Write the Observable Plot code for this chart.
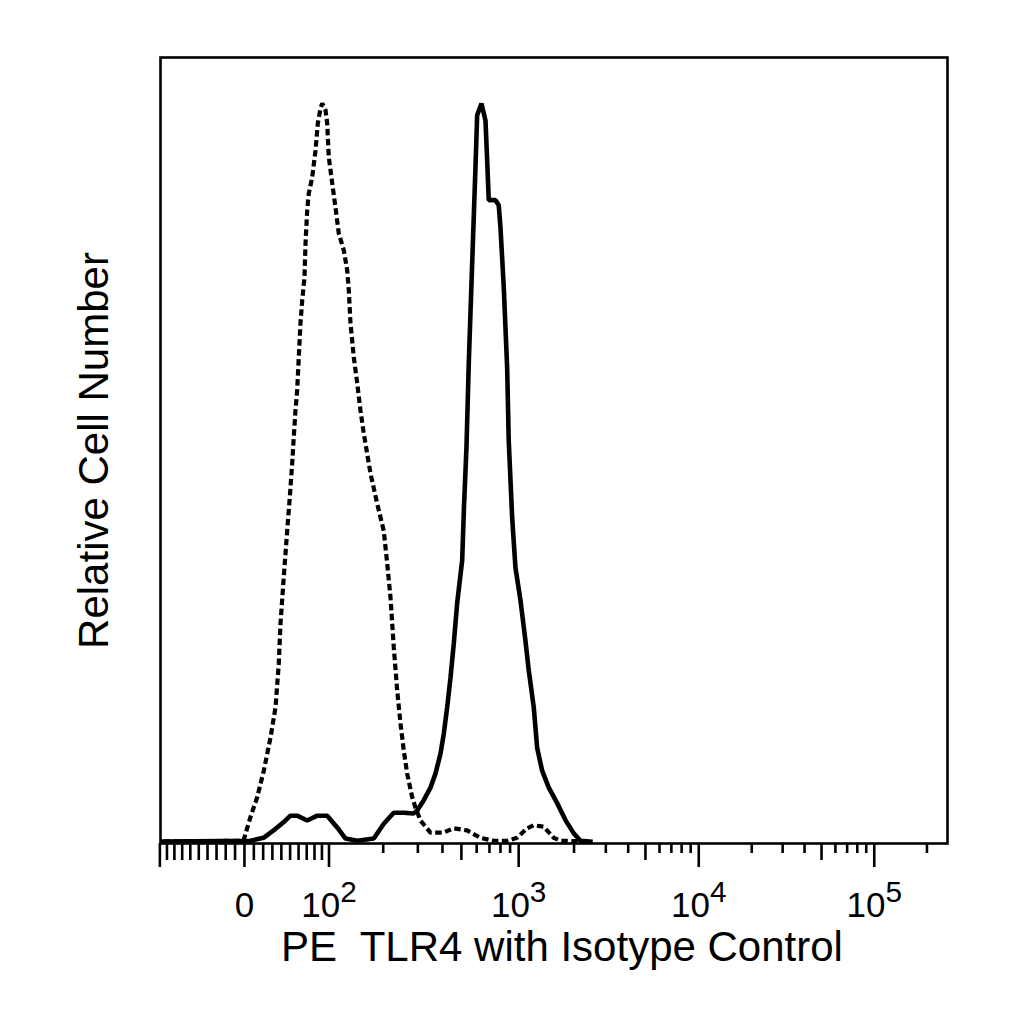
<!DOCTYPE html>
<html>
<head>
<meta charset="utf-8">
<script src="https://cdn.jsdelivr.net/npm/d3@7"></script>
<script src="https://cdn.jsdelivr.net/npm/@observablehq/plot@0.6"></script>
<style>
  html, body { margin: 0; padding: 0; background: #fff; }
  #chart { width: 1024px; height: 1024px; }
  svg text { white-space: pre; }
</style>
</head>
<body>
<div id="chart"></div>
<script>
// ---------- data (fluorescence intensity, relative cell number in % of peak) ----------
const isotypeIntensity = [-95, -1, 2.2, 6.4, 13.6, 20.7, 28.0, 33.5, 37.1, 39.0, 42.7, 46.6, 49.6, 52.4, 54.0, 56.3, 58.3, 59.9, 62.3, 64.4, 67.2, 68.5, 70.6, 72.6, 77.0, 81.3, 84.4, 88.0, 90.4, 95.0, 97.4, 99.7, 104.7, 109.6, 114.7, 122.7, 128.3, 131, 133.9, 139.7, 145.8, 151.9, 158.2, 171.7, 186.1, 201.3, 209.6, 217.9, 226.5, 235.7, 245, 254.6, 264.9, 280.8, 291.8, 309.3, 347.6, 404.7, 455.3, 535.5, 627.9, 734.6, 868.1, 981.5, 1110.6, 1205.4, 1365.5, 1547.8, 1684, 2463];
const isotypeCount = [0, 0.1, 1.5, 3.3, 6.0, 9.6, 14.1, 18.2, 24.1, 29.5, 35.8, 42.1, 46.6, 51.2, 54.3, 58.4, 61.1, 64.8, 70.2, 73.3, 76.4, 81.0, 85.5, 87.8, 90.0, 93.6, 97.3, 99.3, 100, 99.1, 97.3, 92.7, 89.2, 85.9, 82.4, 80.1, 77.4, 74.7, 70.2, 65.6, 62.1, 58.4, 55.3, 49.9, 45.8, 42.1, 37.7, 33.1, 26.3, 20.5, 16.0, 12.3, 9.2, 6.0, 4.6, 2.85, 1.2, 1.2, 1.8, 1.5, 0.5, 0.1, 0.1, 0.5, 1.8, 2.2, 2.0, 0.5, 0.1, 0];

const tlr4Intensity = [-95, 6.4, 20.4, 31.3, 42.4, 50.4, 58.3, 70.6, 83.6, 97.4, 112.2, 125.5, 145.8, 178.7, 201.3, 226.5, 254.6, 285.1, 297.6, 321.4, 347.6, 368.4, 390.8, 406.1, 422.7, 439.5, 456.9, 475.7, 504.8, 515.6, 531.2, 545.9, 568.5, 591.4, 603.6, 635.6, 667, 680.8, 694.1, 752.8, 783.5, 800, 832.8, 868.1, 885.1, 923, 961.2, 1022.3, 1087.5, 1132.6, 1205.4, 1257.4, 1338.3, 1454.2, 1615.6, 1793.5, 1992.4, 2168.8, 2463];
const tlr4Count = [0, 0.1, 0.5, 1.5, 2.6, 3.5, 3.5, 2.85, 3.5, 3.5, 1.9, 0.4, 0.1, 0.4, 2.4, 3.9, 3.9, 3.8, 4.2, 5.6, 7.3, 9.2, 11.9, 14.6, 18.2, 22.2, 26.8, 32.3, 38.1, 45.3, 53.4, 64.8, 78.3, 91.3, 98.4, 100, 97.7, 92.3, 86.9, 86.9, 86.2, 83.2, 75.1, 64.2, 54.3, 43.9, 37.1, 32.7, 27.2, 23.2, 18.2, 12.7, 9.6, 7.3, 5.2, 2.9, 1.1, 0.1, 0];

// axis ticks
const majorTicks = [-100, 0, 100, 1000, 10000, 100000];
const majorLabels = ["", "0", "10^2", "10^3", "10^4", "10^5"];
const mediumTicks = [-90, -80, -70, -60, -50, -40, -30, -20, -10, 10, 20, 30, 40, 50, 60, 70, 80, 90, 500, 5000, 50000];
const minorTicks = [200, 300, 400, 600, 700, 800, 900, 2000, 3000, 4000, 6000, 7000, 8000, 9000, 20000, 30000, 40000, 60000, 70000, 80000, 90000, 200000];

const xTitle = "PE  TLR4 with Isotype Control";
const yTitle = "Relative Cell Number";

// ---------- logicle (biexponential) display transform ----------
function makeLogicle(T, W, M, A) {
  const w = W / (M + A), x2 = A / (M + A), x1 = x2 + w, x0 = x2 + 2 * w;
  const b = (M + A) * Math.LN10;
  let lo = 1e-9, hi = b;
  for (let i = 0; i < 200; i++) {
    const mid = (lo + hi) / 2;
    const f = 2 * (Math.log(mid) - Math.log(b)) + w * (b + mid);
    if (f > 0) hi = mid; else lo = mid;
  }
  const d = (lo + hi) / 2;
  const ca = Math.exp(x0 * (b + d));
  const mfa = Math.exp(b * x1) - ca / Math.exp(d * x1);
  const a = T / ((Math.exp(b) - mfa) - ca / Math.exp(d));
  const c = ca * a, f = -mfa * a;
  const inverse = (y) => {
    const neg = y < x1;
    const yy = neg ? 2 * x1 - y : y;
    const v = a * Math.exp(b * yy) + f - c * Math.exp(-d * yy);
    return neg ? -v : v;
  };
  return (v) => {
    let l = -1, h = 2;
    for (let i = 0; i < 90; i++) {
      const m = (l + h) / 2;
      if (inverse(m) < v) l = m; else h = m;
    }
    return (l + h) / 2;
  };
}
const L = makeLogicle(262144, 0.48, 4.5, 0);

const isotype = isotypeIntensity.map((v, i) => ({value: v, count: isotypeCount[i]}));
const tlr4 = tlr4Intensity.map((v, i) => ({value: v, count: tlr4Count[i]}));

const labelOf = new Map(majorTicks.map((v, i) => [L(v), majorLabels[i]]));

const font = "'Liberation Sans', Arial, Helvetica, sans-serif";

const chart = Plot.plot({
  width: 1024,
  height: 1024,
  marginLeft: 160,
  marginRight: 77,
  marginTop: 57,
  marginBottom: 181,
  style: {fontFamily: font, background: "#fff", color: "#000"},
  x: {type: "linear", domain: [0, 1], axis: null},
  y: {type: "linear", domain: [-0.27, 106.23], axis: null},
  marks: [
    Plot.line(tlr4, {x: d => L(d.value), y: "count", stroke: "#000", strokeWidth: 4.6, strokeLinejoin: "miter", strokeLinecap: "square"}),
    Plot.line(isotype, {x: d => L(d.value), y: "count", stroke: "#000", strokeWidth: 4.2, strokeDasharray: "6.5,3.5", strokeLinecap: "butt", strokeLinejoin: "miter"}),
    Plot.frame({stroke: "#000", strokeWidth: 2.6}),
    Plot.axisX({anchor: "bottom", ticks: minorTicks.map(L), tickSize: 10, tickPadding: 0, tickFormat: () => "", strokeWidth: 2.6, label: null}),
    Plot.axisX({anchor: "bottom", ticks: mediumTicks.map(L), tickSize: 17, tickPadding: 0, tickFormat: () => "", strokeWidth: 2.6, label: null}),
    Plot.axisX({anchor: "bottom", ticks: majorTicks.map(L), tickSize: 24, tickPadding: 25, fontSize: 35, tickFormat: v => labelOf.get(v) ?? "", strokeWidth: 2.6, label: null}),
    Plot.text([xTitle], {text: d => d, frameAnchor: "bottom", lineAnchor: "bottom", dx: 8, dy: 117, fontSize: 42, fill: "#000"}),
    Plot.text([yTitle], {text: d => d, frameAnchor: "left", textAnchor: "middle", lineAnchor: "bottom", rotate: -90, dx: -53, fontSize: 42, fill: "#000"})
  ]
});

// superscript exponents in tick labels
const ns = "http://www.w3.org/2000/svg";
chart.querySelectorAll("text").forEach(t => {
  const m = /^(\d+)\^(\d+)$/.exec(t.textContent);
  if (m) {
    t.textContent = "";
    const base = document.createElementNS(ns, "tspan");
    base.textContent = m[1];
    const sup = document.createElementNS(ns, "tspan");
    sup.setAttribute("dy", "-0.5em");
    sup.setAttribute("font-size", "0.85em");
    sup.textContent = m[2];
    t.appendChild(base);
    t.appendChild(sup);
  }
});

document.getElementById("chart").appendChild(chart);
</script>
</body>
</html>
